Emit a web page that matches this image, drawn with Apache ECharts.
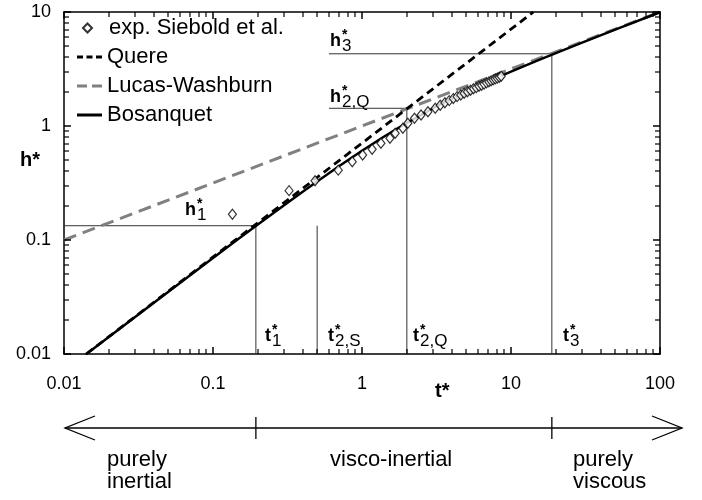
<!DOCTYPE html>
<html>
<head>
<meta charset="utf-8">
<script src="https://cdn.jsdelivr.net/npm/echarts@6/dist/echarts.min.js"></script>
<style>
html,body{margin:0;padding:0;background:#fff;}
#main{width:702px;height:500px;}
</style>
</head>
<body>
<div id="main"></div>
<script>
var FONT = '"Liberation Sans", Arial, sans-serif';

// axes
var xMin = 0.01, xMax = 100;
var yMin = 0.01, yMax = 10;
var xMajor = [0.01, 0.1, 1, 10, 100];
var yMajor = [0.01, 0.1, 1, 10];
var minorSteps = [2, 3, 4, 5, 6, 7, 8, 9];

// experiments (Siebold et al.)
var expT = [0.135, 0.324, 0.484, 0.693, 0.86, 1.01, 1.17, 1.34, 1.54, 1.67, 1.88, 2.03, 2.25, 2.49, 2.77,
            3.1, 3.35, 3.6, 3.85, 4.1, 4.35, 4.6, 4.85, 5.1, 5.35, 5.6, 5.85, 6.1, 6.35, 6.6, 6.85,
            7.1, 7.35, 7.6, 7.85, 8.1, 8.35, 8.6];
var expH = [0.168, 0.271, 0.331, 0.41, 0.486, 0.557, 0.625, 0.705, 0.78, 0.863, 0.955, 1.056, 1.168, 1.249, 1.335,
            1.43, 1.52, 1.60, 1.67, 1.74, 1.81, 1.87, 1.94, 2.00, 2.06, 2.12, 2.17, 2.23, 2.28, 2.33, 2.39,
            2.44, 2.49, 2.54, 2.59, 2.63, 2.68, 2.73];

// model curves
var bosT = [0.014, 0.03, 0.06, 0.1, 0.15, 0.2, 0.3, 0.4, 0.5, 0.7, 1, 1.4, 2, 3, 4, 5, 7, 10, 15, 20, 30, 50, 100];
var bosH = [0.0099, 0.0211, 0.042, 0.0696, 0.1035, 0.1369, 0.202, 0.2652, 0.3264, 0.4434, 0.6065, 0.8041,
            1.0655, 1.4317, 1.7373, 2.0017, 2.4497, 3.0, 3.7417, 4.3589, 5.3852, 7.0, 9.95];
var quereT = [0.0141, 14.14];
var quereH = [0.01, 10];
var lwT = [0.01, 100];
var lwH = [0.1, 10];

// characteristic times / heights
var t1 = 0.194, t2S = 0.5, t2Q = 2.0, t3 = 18.8;
var h1 = 0.1334, h2Q = 1.43, h3 = 4.3;
var hLineStart = 0.6;

function pairs(xs, ys) {
    var out = [];
    for (var i = 0; i < xs.length; i++) out.push([xs[i], ys[i]]);
    return out;
}

function logAxis(pos, min, max, labels) {
    return {
        type: 'log',
        logBase: 10,
        min: min,
        max: max,
        position: pos,
        axisLine: { show: true, onZero: false, lineStyle: { color: '#000', width: 1.5 } },
        axisTick: { show: false },
        axisLabel: {
            show: labels,
            color: '#000',
            fontSize: 18,
            fontFamily: FONT,
            margin: (pos === 'bottom') ? 21 : 13
        },
        splitLine: { show: false },
        minorTick: { show: false }
    };
}

var guides = [
    [[xMin, h1], [t1, h1]],
    [[t1, yMin], [t1, h1]],
    [[t2S, yMin], [t2S, h1]],
    [[hLineStart, h2Q], [t2Q, h2Q]],
    [[t2Q, yMin], [t2Q, h2Q]],
    [[hLineStart, h3], [t3, h3]],
    [[t3, yMin], [t3, h3]]
];

var series = guides.map(function (g) {
    return {
        type: 'line', data: g, symbol: 'none', silent: true, z: 1,
        lineStyle: { color: '#333', width: 1 }
    };
});

series.push({
    name: 'Lucas-Washburn', type: 'line', data: pairs(lwT, lwH), symbol: 'none', z: 2,
    itemStyle: { color: '#808080' },
    lineStyle: { color: '#808080', width: 3, type: [13, 7] }
});
series.push({
    name: 'Quere', type: 'line', data: pairs(quereT, quereH), symbol: 'none', z: 3,
    itemStyle: { color: '#000' },
    lineStyle: { color: '#000', width: 2.8, type: [8, 5] }
});
series.push({
    name: 'Bosanquet', type: 'line', data: pairs(bosT, bosH), symbol: 'none', z: 4,
    itemStyle: { color: '#000' },
    lineStyle: { color: '#000', width: 2.5 }
});
series.push({
    name: 'exp. Siebold et al.', type: 'scatter', data: pairs(expT, expH), z: 5,
    symbol: 'diamond', symbolSize: [8, 10],
    itemStyle: { color: '#fff', borderColor: '#000', borderWidth: 1.2 }
});

var legendText = { fontSize: 22, fontFamily: FONT, color: '#000' };

var option = {
    animation: false,
    backgroundColor: '#fff',
    grid: { left: 64, top: 12, right: 42, bottom: 146 },
    legend: [
        {
            data: ['exp. Siebold et al.'], orient: 'vertical', left: 82, top: 17,
            itemWidth: 9, itemHeight: 9, padding: 0, selectedMode: false,
            textStyle: { fontSize: 22, fontFamily: FONT, color: '#000', padding: [0, 0, 0, 12] }
        },
        {
            data: [
                { name: 'Quere', icon: 'path://M0,0h6v3h-6z M9.5,0h6v3h-6z M19,0h6v3h-6z' },
                { name: 'Lucas-Washburn', icon: 'path://M0,0h10v3h-10z M15,0h10v3h-10z' },
                { name: 'Bosanquet', icon: 'path://M0,0h25v3h-25z' }
            ],
            orient: 'vertical', left: 77, top: 46,
            itemWidth: 25, itemHeight: 3, itemGap: 7, padding: 0, selectedMode: false, textStyle: legendText
        }
    ],
    xAxis: [logAxis('bottom', xMin, xMax, true), logAxis('top', xMin, xMax, false)],
    yAxis: [logAxis('left', yMin, yMax, true), logAxis('right', yMin, yMax, false)],
    series: series
};

var chart = echarts.init(document.getElementById('main'));
chart.setOption(option);

// tick marks on all four sides, placed through the grid's scales
function toPx(x, y) { return chart.convertToPixel({ gridIndex: 0 }, [x, y]); }

var tickEls = [];
function addTicks(values, isX, len, width) {
    var lo = toPx(xMin, yMin), hi = toPx(xMax, yMax);
    values.forEach(function (v) {
        var p;
        if (isX) {
            p = Math.round(toPx(v, yMin)[0]);
            tickEls.push({ type: 'rect', z: 100, shape: { x: p - width / 2, y: lo[1] - len, width: width, height: len }, style: { fill: '#000' } });
            tickEls.push({ type: 'rect', z: 100, shape: { x: p - width / 2, y: hi[1], width: width, height: len }, style: { fill: '#000' } });
        } else {
            p = Math.round(toPx(xMin, v)[1]);
            tickEls.push({ type: 'rect', z: 100, shape: { x: lo[0], y: p - width / 2, width: len, height: width }, style: { fill: '#000' } });
            tickEls.push({ type: 'rect', z: 100, shape: { x: hi[0] - len, y: p - width / 2, width: len, height: width }, style: { fill: '#000' } });
        }
    });
}
function minorOf(major) {
    var out = [];
    major.slice(0, -1).forEach(function (d) {
        minorSteps.forEach(function (s) { out.push(d * s); });
    });
    return out;
}
addTicks(xMajor, true, 7, 1.5);
addTicks(yMajor, false, 7, 1.5);
addTicks(minorOf(xMajor), true, 5, 1.2);
addTicks(minorOf(yMajor), false, 5, 1.2);

// labels with stacked superscript * and subscript
function annot(main, sub, x, base) {
    var w = (main === 'h') ? 11 : 6;
    return {
        type: 'group',
        children: [
            { type: 'text', x: x, y: base - 6, style: { text: main, fontSize: 18, fontWeight: 'bold', fontFamily: FONT, fill: '#000', align: 'left', verticalAlign: 'middle' } },
            { type: 'text', x: x + w + 1, y: base - 12, style: { text: '*', fontSize: 14, fontWeight: 'bold', fontFamily: FONT, fill: '#000', align: 'left', verticalAlign: 'middle' } },
            { type: 'text', x: x + w + 1, y: base - 1, style: { text: sub, fontSize: 17, fontFamily: FONT, fill: '#000', align: 'left', verticalAlign: 'middle' } }
        ]
    };
}

function plainText(txt, x, y, size, bold) {
    return {
        type: 'text', x: x, y: y,
        style: { text: txt, fontSize: size, fontWeight: bold ? 'bold' : 'normal', fontFamily: FONT, fill: '#000',
                 align: 'left', verticalAlign: 'middle', lineHeight: 22 }
    };
}

var arrowY = 428;
var arrowStyle = { stroke: '#000', lineWidth: 1.3, fill: null };
var p1 = toPx(t1, yMin)[0], p3 = toPx(t3, yMin)[0];

chart.setOption({
    graphic: [
        annot('h', '1', 185, 216),
        annot('t', '1', 265, 342),
        annot('t', '2,S', 328, 342),
        annot('t', '2,Q', 413, 342),
        annot('t', '3', 563, 342),
        annot('h', '3', 330, 47),
        annot('h', '2,Q', 330, 103),
        plainText('h*', 20, 160, 20, true),
        plainText('t*', 435, 391, 20, true),
        { type: 'line', shape: { x1: 65, y1: arrowY, x2: 682, y2: arrowY }, style: arrowStyle },
        { type: 'polyline', shape: { points: [[95, arrowY - 12], [65, arrowY], [95, arrowY + 12]] }, style: arrowStyle },
        { type: 'polyline', shape: { points: [[652, arrowY - 12], [682, arrowY], [652, arrowY + 12]] }, style: arrowStyle },
        { type: 'line', shape: { x1: p1, y1: arrowY - 11, x2: p1, y2: arrowY + 11 }, style: arrowStyle },
        { type: 'line', shape: { x1: p3, y1: arrowY - 11, x2: p3, y2: arrowY + 11 }, style: arrowStyle },
        plainText('purely\ninertial', 107, 471, 22, false),
        plainText('visco-inertial', 330, 460, 22, false),
        plainText('purely\nviscous', 573, 471, 22, false)
    ].concat(tickEls)
});
</script>
</body>
</html>
